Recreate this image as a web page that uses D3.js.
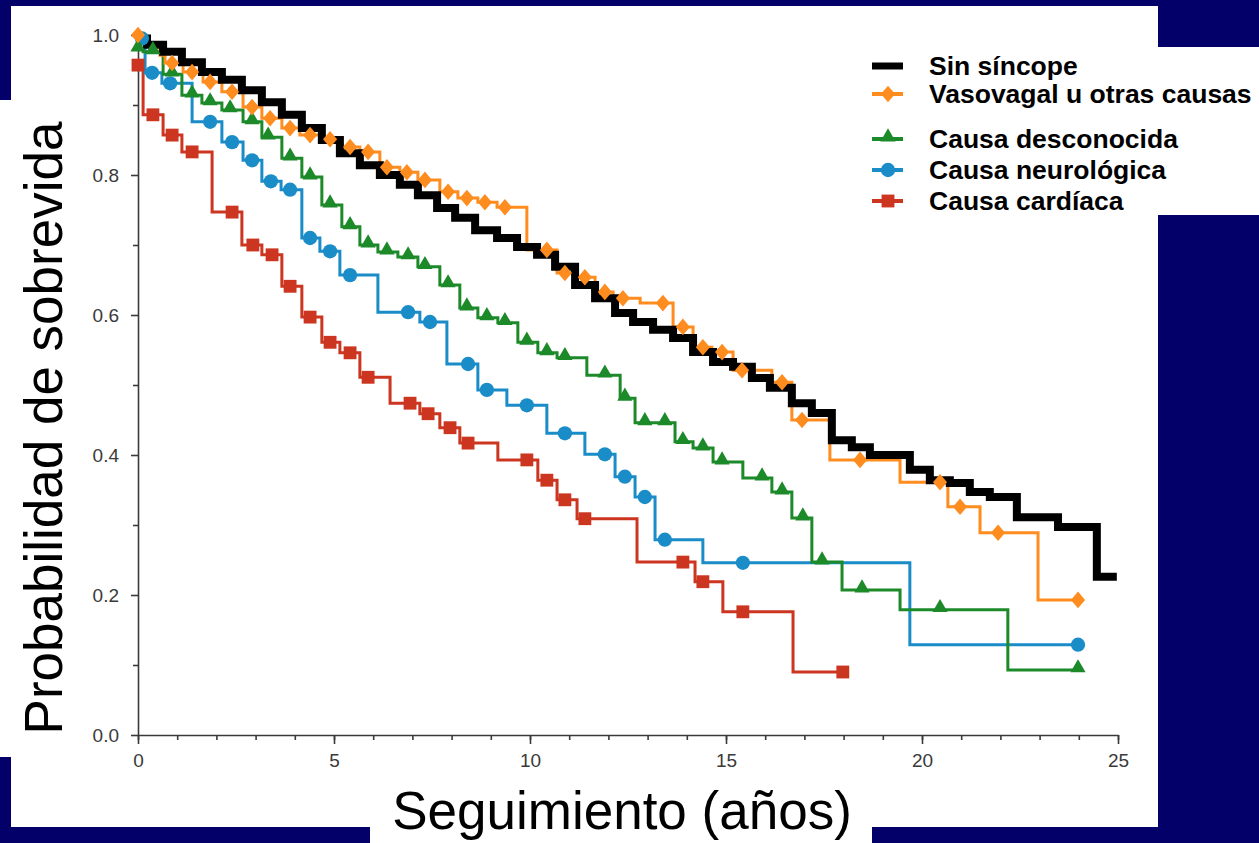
<!DOCTYPE html>
<html>
<head>
<meta charset="utf-8">
<script src="https://cdn.jsdelivr.net/npm/d3@7"></script>
<style>
  html, body { margin: 0; padding: 0; background: #03006a; }
  svg { display: block; }
</style>
</head>
<body>
<svg id="chart"></svg>
<script>
// [años, probabilidad] : la curva toma ese valor a partir de ese tiempo
var sinSincope = [[0, 0.995], [0.23, 0.986], [0.64, 0.976], [1.12, 0.961], [1.63, 0.947], [2.14, 0.936],
  [2.65, 0.921], [3.16, 0.904], [3.67, 0.886], [4.18, 0.867], [4.69, 0.85], [5.15, 0.831], [5.66, 0.814],
  [6.17, 0.80], [6.68, 0.786], [7.14, 0.771], [7.63, 0.753], [8.09, 0.739], [8.6, 0.721], [9.16, 0.71],
  [9.67, 0.697], [10.18, 0.686], [10.64, 0.669], [11.15, 0.643], [11.66, 0.624], [12.17, 0.603],
  [12.63, 0.59], [13.14, 0.579], [13.65, 0.567], [14.16, 0.547], [14.67, 0.533], [15.18, 0.526],
  [15.66, 0.51], [16.12, 0.496], [16.68, 0.474], [17.19, 0.46], [17.7, 0.421], [18.21, 0.411],
  [18.67, 0.40], [19.69, 0.379], [20.2, 0.364], [20.71, 0.36], [21.22, 0.347], [21.73, 0.34],
  [22.42, 0.311], [23.47, 0.297], [24.46, 0.226]];
var sinSincopeEnd = 24.97;

var vasovagal = [[0, 1.0], [0.18, 0.986], [0.56, 0.971], [0.69, 0.96], [1.15, 0.947], [1.66, 0.933],
  [2.14, 0.919], [2.68, 0.897], [3.16, 0.881], [3.67, 0.867], [4.13, 0.857], [4.69, 0.851], [5.2, 0.84],
  [5.66, 0.833], [6.17, 0.811], [6.68, 0.804], [7.14, 0.793], [7.7, 0.776], [8.16, 0.767], [8.67, 0.761],
  [9.16, 0.754], [9.92, 0.693], [10.69, 0.66], [11.15, 0.654], [11.66, 0.633], [12.12, 0.624],
  [12.81, 0.617], [13.65, 0.583], [14.16, 0.554], [14.64, 0.547], [15.18, 0.521], [16.17, 0.504],
  [16.68, 0.45], [17.65, 0.393], [19.44, 0.361], [20.66, 0.326], [21.48, 0.289], [22.96, 0.193]];
var vasovagalMarks = [0, 0.87, 1.38, 1.84, 2.4, 2.91, 3.37, 3.88, 4.39, 4.9, 5.41, 5.87, 6.35, 6.86, 7.32,
  7.91, 8.39, 8.85, 9.36, 10.43, 10.89, 11.4, 11.91, 12.37, 13.39, 13.9, 14.41, 14.9, 15.41, 16.43,
  16.94, 18.42, 20.46, 20.97, 21.94, 23.98];
var vasovagalEnd = 23.98;

var desconocida = [[0, 0.98], [0.13, 0.976], [0.64, 0.944], [1.12, 0.914], [1.63, 0.903], [2.14, 0.893],
  [2.68, 0.876], [3.16, 0.854], [3.67, 0.824], [4.18, 0.797], [4.69, 0.757], [5.2, 0.726], [5.66, 0.70],
  [6.12, 0.69], [6.63, 0.683], [7.14, 0.669], [7.7, 0.643], [8.21, 0.61], [8.67, 0.596], [9.18, 0.589],
  [9.69, 0.561], [10.2, 0.546], [10.69, 0.539], [11.45, 0.514], [12.3, 0.481], [12.68, 0.446],
  [13.7, 0.419], [14.16, 0.41], [14.67, 0.39], [15.43, 0.367], [16.17, 0.347], [16.68, 0.31],
  [17.19, 0.247], [17.96, 0.207], [19.44, 0.179], [22.19, 0.093]];
var desconocidaMarks = [0, 0.38, 0.87, 1.38, 1.84, 2.35, 2.91, 3.32, 3.88, 4.39, 4.9, 5.41, 5.87, 6.35,
  6.89, 7.32, 7.91, 8.39, 8.9, 9.36, 9.92, 10.43, 10.89, 11.91, 12.42, 12.93, 13.44, 13.9, 14.41, 14.9,
  15.92, 16.43, 16.96, 17.45, 18.47, 20.46, 23.98];
var desconocidaEnd = 23.98;

var neurologica = [[0, 0.995], [0.18, 0.946], [0.61, 0.931], [1.38, 0.876], [2.14, 0.847], [2.68, 0.821],
  [3.16, 0.791], [3.65, 0.779], [4.18, 0.71], [4.64, 0.691], [5.15, 0.657], [6.12, 0.604], [7.19, 0.59],
  [7.88, 0.53], [8.67, 0.493], [9.41, 0.471], [10.43, 0.431], [11.4, 0.401], [12.17, 0.369],
  [12.68, 0.34], [13.19, 0.279], [14.41, 0.246], [19.69, 0.129]];
var neurologicaMarks = [0.1, 0.36, 0.82, 1.84, 2.4, 2.91, 3.39, 3.88, 4.39, 4.9, 5.41, 6.89, 7.45, 8.42,
  8.9, 9.92, 10.89, 11.91, 12.42, 12.93, 13.44, 15.43, 23.98];
var neurologicaEnd = 23.98;

var cardiaca = [[0, 0.957], [0.13, 0.886], [0.64, 0.857], [1.12, 0.833], [1.89, 0.747], [2.65, 0.70],
  [3.16, 0.686], [3.67, 0.641], [4.18, 0.597], [4.69, 0.561], [5.15, 0.546], [5.66, 0.511], [6.43, 0.474],
  [7.19, 0.459], [7.7, 0.439], [8.21, 0.417], [9.18, 0.393], [10.2, 0.364], [10.69, 0.336], [11.2, 0.309],
  [12.73, 0.247], [14.21, 0.219], [14.92, 0.176], [16.71, 0.09]];
var cardiacaMarks = [0, 0.38, 0.87, 1.38, 2.4, 2.93, 3.42, 3.88, 4.39, 4.9, 5.41, 5.87, 6.94, 7.4, 7.96,
  8.42, 9.92, 10.43, 10.89, 11.4, 13.9, 14.41, 15.43, 17.98];
var cardiacaEnd = 17.98;

var seriesNames = ['Sin síncope', 'Vasovagal u otras causas', 'Causa desconocida', 'Causa neurológica', 'Causa cardíaca'];
var xTicks = [0, 5, 10, 15, 20, 25];
var xMinorTicks = d3.range(0, 26);
var yTicks = [0, 0.2, 0.4, 0.6, 0.8, 1.0];
var yMinorTicks = [0.1, 0.3, 0.5, 0.7, 0.9];

(function drawKaplanMeier() {
  var width = 1259,
    height = 843,
    navy = '#03006a';

  var series = [
    { name: seriesNames[0], steps: sinSincope, marks: [], end: sinSincopeEnd, color: '#000000', width: 8, symbol: null },
    { name: seriesNames[1], steps: vasovagal, marks: vasovagalMarks, end: vasovagalEnd, color: '#ff8c1e', width: 3, symbol: 'diamond' },
    { name: seriesNames[2], steps: desconocida, marks: desconocidaMarks, end: desconocidaEnd, color: '#1d8a2a', width: 3, symbol: 'triangle' },
    { name: seriesNames[3], steps: neurologica, marks: neurologicaMarks, end: neurologicaEnd, color: '#1a8cc8', width: 3, symbol: 'circle' },
    { name: seriesNames[4], steps: cardiaca, marks: cardiacaMarks, end: cardiacaEnd, color: '#cc3520', width: 3, symbol: 'square' }
  ];

  var svg = d3.select('#chart')
    .attr('width', width)
    .attr('height', height)
    .style('font-family', '"Liberation Sans", Arial, Helvetica, sans-serif');

  // fondo: diapositiva azul con el recorte blanco
  svg.append('rect').attr('width', width).attr('height', height).attr('fill', navy);
  [[11, 6, 1147, 821], [0, 100, 12, 657], [1157, 47, 102, 168], [370, 826, 502, 17]].forEach(function(r) {
    svg.append('rect')
      .attr('x', r[0]).attr('y', r[1])
      .attr('width', r[2]).attr('height', r[3])
      .attr('fill', '#ffffff');
  });

  var x = d3.scaleLinear().domain([0, 25]).range([138, 1118]);
  var y = d3.scaleLinear().domain([0, 1]).range([735, 35]);

  // ejes
  var axisColor = '#3a3a3a';
  var yAxis = svg.append('g').attr('transform', 'translate(' + x(0) + ',0)');
  yAxis.call(d3.axisLeft(y).tickValues(yTicks).tickSize(7).tickSizeOuter(0).tickPadding(12).tickFormat(d3.format('.1f')));
  yAxis.append('g').call(d3.axisLeft(y).tickValues(yMinorTicks).tickSize(5).tickFormat(''))
    .select('.domain').remove();

  var xAxis = svg.append('g').attr('transform', 'translate(0,' + y(0) + ')');
  xAxis.call(d3.axisBottom(x).tickValues(xTicks).tickSize(9).tickSizeOuter(0).tickPadding(10));
  xAxis.append('g').call(d3.axisBottom(x).tickValues(xMinorTicks).tickSize(5).tickFormat(''))
    .select('.domain').remove();

  svg.selectAll('.domain, .tick line')
    .attr('stroke', axisColor)
    .attr('stroke-width', 1.6);
  svg.selectAll('.tick text')
    .attr('fill', '#3a3a3a')
    .style('font-size', '19px')
    .style('font-family', '"Liberation Sans", Arial, sans-serif');

  // curvas
  var line = d3.line()
    .x(function(d) { return x(d[0]); })
    .y(function(d) { return y(d[1]); })
    .curve(d3.curveStepAfter);

  var bisect = d3.bisector(function(d) { return d[0]; }).right;

  function valueAt(steps, t) {
    var i = Math.max(0, bisect(steps, t) - 1);
    return steps[i][1];
  }

  function symbolPath(kind) {
    if (kind === 'diamond') return d3.symbol(d3.symbolSquare, 118)();
    if (kind === 'triangle') return d3.symbol(d3.symbolTriangle, 100)();
    if (kind === 'circle') return d3.symbol(d3.symbolCircle, 160)();
    return d3.symbol(d3.symbolSquare, 165)();
  }

  function symbolTransform(kind, px, py) {
    if (kind === 'diamond') return 'translate(' + px + ',' + py + ') scale(0.92,1.08) rotate(45)';
    if (kind === 'triangle') return 'translate(' + px + ',' + (py - 2) + ')';
    return 'translate(' + px + ',' + py + ')';
  }

  var drawOrder = [4, 3, 2, 1, 0];
  drawOrder.forEach(function(i) {
    var s = series[i];
    var pts = s.steps.concat([[s.end, s.steps[s.steps.length - 1][1]]]);
    svg.append('path')
      .datum(pts)
      .attr('fill', 'none')
      .attr('stroke', s.color)
      .attr('stroke-width', s.width)
      .attr('stroke-linejoin', 'miter')
      .attr('d', line);
  });

  drawOrder.forEach(function(i) {
    var s = series[i];
    if (!s.symbol) return;
    svg.append('g').selectAll('path')
      .data(s.marks)
      .enter().append('path')
      .attr('d', symbolPath(s.symbol))
      .attr('fill', s.color)
      .attr('transform', function(t) {
        return symbolTransform(s.symbol, x(t), y(valueAt(s.steps, t)));
      });
  });

  // leyenda
  var rowY = [66, 94, 139, 170, 201];
  var legend = svg.append('g');
  series.forEach(function(s, i) {
    var g = legend.append('g').attr('transform', 'translate(872,' + rowY[i] + ')');
    g.append('line')
      .attr('x1', 0).attr('x2', 31)
      .attr('stroke', s.color)
      .attr('stroke-width', s.width === 8 ? 7 : 4);
    if (s.symbol) {
      g.append('path')
        .attr('d', symbolPath(s.symbol))
        .attr('fill', s.color)
        .attr('transform', symbolTransform(s.symbol, 16, 0));
    }
    g.append('text')
      .attr('x', 57)
      .attr('y', 9)
      .attr('fill', '#000')
      .style('font-size', '26.5px')
      .style('font-weight', 'bold')
      .text(s.name);
  });

  // titulos de los ejes
  svg.append('text')
    .attr('transform', 'translate(62,428) rotate(-90)')
    .attr('text-anchor', 'middle')
    .attr('fill', '#000')
    .style('font-size', '53px')
    .text('Probabilidad de sobrevida');

  svg.append('text')
    .attr('x', 622)
    .attr('y', 829)
    .attr('text-anchor', 'middle')
    .attr('fill', '#000')
    .style('font-size', '53px')
    .text('Seguimiento (años)');
})();
</script>
</body>
</html>
